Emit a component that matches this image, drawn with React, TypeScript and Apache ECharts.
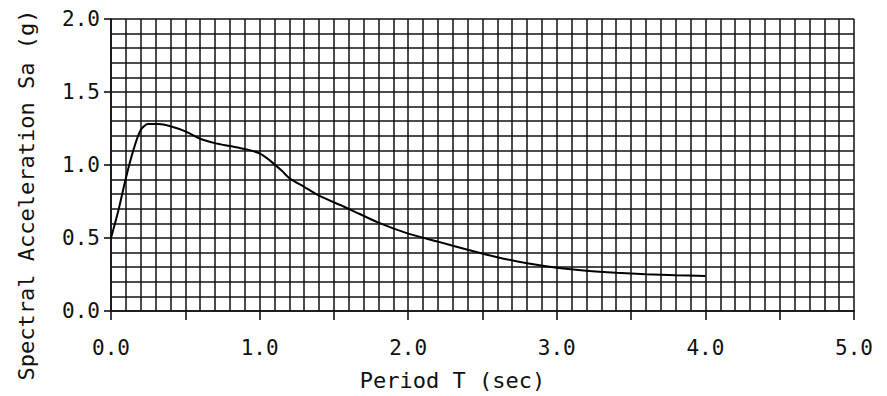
import React, { useEffect, useRef } from "react";
import * as echarts from "echarts";

const periods = [0, 0.05, 0.1, 0.15, 0.2, 0.25, 0.32, 0.4, 0.5, 0.6, 0.7, 0.8, 0.9, 1.0, 1.07, 1.15, 1.2, 1.3, 1.4, 1.6, 1.8, 2.0, 2.2, 2.4, 2.6, 2.8, 3.0, 3.2, 3.4, 3.6, 3.8, 4.0];
const accel = [0.5, 0.69, 0.91, 1.1, 1.24, 1.28, 1.28, 1.265, 1.23, 1.18, 1.15, 1.13, 1.11, 1.08, 1.03, 0.96, 0.91, 0.85, 0.79, 0.7, 0.605, 0.53, 0.475, 0.42, 0.368, 0.327, 0.297, 0.276, 0.262, 0.252, 0.245, 0.24];
const xName = "Period T (sec)";
const yName = "Spectral Acceleration Sa (g)";

const FONT = "DejaVu Sans Mono";
const INK = "#111";

export default function App() {
  const ref = useRef<HTMLDivElement>(null);
  useEffect(() => {
    if (!ref.current) return;
    const chart = echarts.init(ref.current, null, { renderer: "svg" });
    const gridLine = { show: true, lineStyle: { color: INK, width: 1.5 } };
    chart.setOption({
      animation: false,
      backgroundColor: "#fff",
      grid: { left: 111, right: 33, top: 19, bottom: 79, containLabel: false },
      xAxis: {
        type: "value",
        min: 0,
        max: 5,
        interval: 0.5,
        name: xName,
        nameLocation: "middle",
        nameGap: 58,
        nameTextStyle: { fontFamily: FONT, fontSize: 22, color: INK, padding: [0, 60, 0, 0] },
        axisLine: { show: true, lineStyle: { color: INK, width: 1.6 } },
        axisTick: { show: true, length: 9, inside: false, lineStyle: { color: INK, width: 1.6 } },
        axisLabel: {
          margin: 26,
          fontFamily: FONT,
          fontSize: 21,
          color: INK,
          formatter: (v: number) => (Math.abs(v - Math.round(v)) < 1e-6 ? v.toFixed(1) : ""),
        },
        splitLine: gridLine,
        minorTick: { show: false, splitNumber: 5 },
        minorSplitLine: gridLine,
      },
      yAxis: {
        type: "value",
        min: 0,
        max: 2,
        interval: 0.5,
        name: yName,
        nameLocation: "middle",
        nameGap: 74,
        nameRotate: 90,
        nameTextStyle: { fontFamily: FONT, fontSize: 22, color: INK, padding: [0, 60, 0, 0], align: "center" },
        axisLine: { show: true, lineStyle: { color: INK, width: 1.6 } },
        axisTick: { show: true, length: 7, inside: false, lineStyle: { color: INK, width: 1.6 } },
        axisLabel: {
          margin: 11,
          fontFamily: FONT,
          fontSize: 21,
          color: INK,
          formatter: (v: number) => v.toFixed(1),
        },
        splitLine: gridLine,
        minorTick: { show: false, splitNumber: 5 },
        minorSplitLine: gridLine,
      },
      series: [
        {
          type: "line",
          data: periods.map((t, i) => [t, accel[i]]),
          smooth: 0.3,
          showSymbol: false,
          lineStyle: { color: "#000", width: 2 },
        },
      ],
    });
    return () => chart.dispose();
  }, []);
  return <div ref={ref} style={{ width: 887, height: 396, position: "absolute", left: 0, top: 0 }} />;
}
